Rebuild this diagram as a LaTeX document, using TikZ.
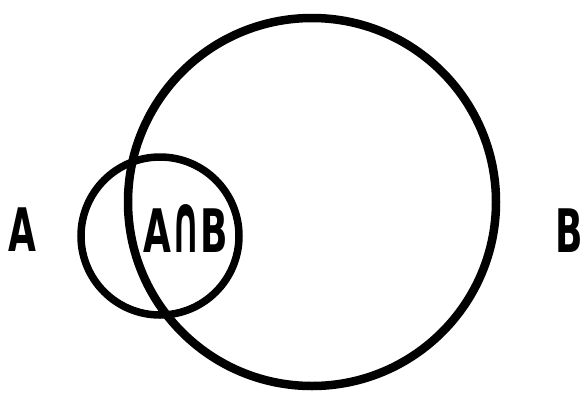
\documentclass[tikz,border=0pt]{standalone}
\usepackage{fontspec}
\setmainfont{DejaVu Sans}
\usepackage{graphicx}
\usetikzlibrary{positioning}

\tikzset{setlabel/.style={font=\bfseries\fontsize{60}{60}\selectfont, inner sep=0pt, anchor=base}}
\newcommand{\narrowtext}[1]{\scalebox{0.6}[1]{#1}}
\newcommand{\tallcap}{\scalebox{1}[1.38]{∩}}

\begin{document}
\begin{tikzpicture}[x=1pt,y=-1pt]
  \useasboundingbox (0,0) rectangle (584,400);

  % Set B (big circle)
  \draw[line width=8.5pt] (312,202) circle (184pt);

  % Set A (small circle)
  \draw[line width=7.5pt] (160,236) circle (79pt);

  % Labels
  \node[setlabel] (labelA) at (22,251) {\narrowtext{A}};
  \node[setlabel] (labelAB) at (186,252) {\narrowtext{A\tallcap B}};
  \node[setlabel] (labelB) at (569,252) {\narrowtext{B}};
\end{tikzpicture}
\end{document}
